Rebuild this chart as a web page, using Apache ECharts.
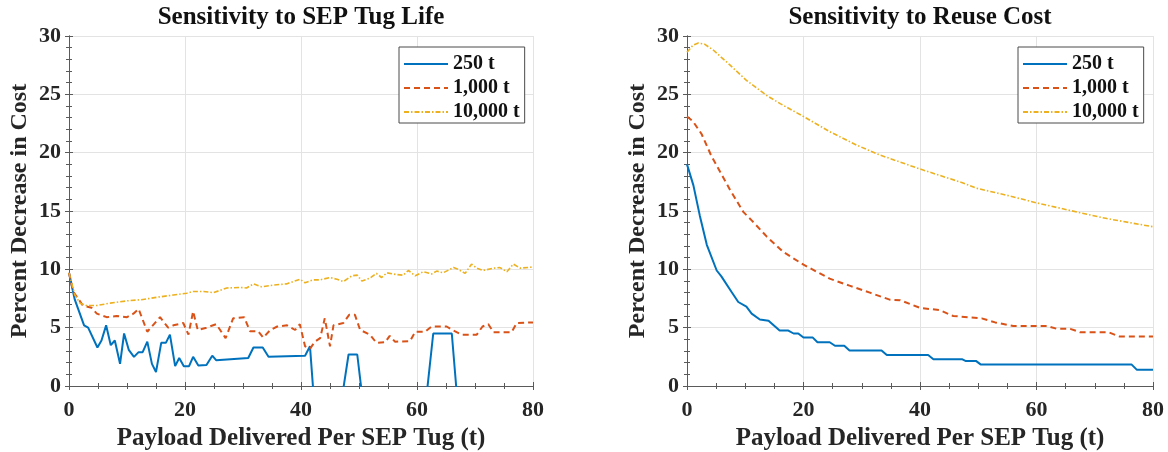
<!DOCTYPE html>
<html>
<head>
<meta charset="utf-8">
<script src="https://cdn.jsdelivr.net/npm/echarts@6/dist/echarts.min.js"></script>
<style>
  html, body { margin: 0; padding: 0; background: #fff; }
  #chart { width: 1168px; height: 452px; }
</style>
</head>
<body>
<div id="chart"></div>
<script>
// [payload (t), percent decrease]
// left panel: sensitivity to SEP tug life
var life250 = [[0,9.7],[1,7.4],[2.6,5.2],[3.3,5.0],[4.9,3.3],[5.6,3.9],[6.4,5.2],[7.2,3.5],[7.9,3.9],[8.8,1.9],
  [9.5,4.5],[10.3,3.1],[11.2,2.5],[12,2.9],[12.7,2.9],[13.5,3.8],[14.3,1.9],[15,1.2],[15.9,3.7],[16.7,3.7],
  [17.4,4.4],[18.3,1.7],[19,2.4],[19.8,1.7],[20.7,1.7],[21.4,2.5],[22.3,1.75],[23.7,1.8],[24.7,2.6],[25.4,2.2],
  [30.9,2.4],[31.8,3.3],[33.4,3.3],[34.4,2.5],[40.7,2.6],[41.55,3.4],[42.5,-3],[45,-4],[47,-1.2],[48.2,2.7],
  [49.7,2.7],[50.7,-1.5],[55,-4],[61.5,-1.5],[62.8,4.5],[66,4.5],[67,-1.5],[80,-3]];
var life1000 = [[0,9.7],[0.7,8.1],[2.4,6.9],[3.9,6.7],[4.8,6.2],[6.5,5.9],[8.2,6.0],[10,5.9],[11.1,6.2],[12,6.6],
  [13.5,4.65],[14.3,5.1],[15.7,5.9],[17.1,5.0],[18,5.2],[19.7,5.4],[20.6,4.4],[21.4,6.4],[22.2,4.8],[23.7,5.0],
  [25.4,5.3],[27,4.1],[28.3,5.8],[30.2,5.9],[31.2,4.7],[32.6,4.7],[33.5,4.15],[34.7,4.8],[35.9,5.1],[37.6,5.2],
  [39,4.8],[39.8,5.3],[40.7,3.4],[41.55,3.2],[42.4,3.8],[43.3,4.1],[44.1,5.8],[45,3.4],[45.6,5.2],[47.3,5.4],
  [48.3,6.1],[49.3,6.1],[50.2,4.8],[51.9,4.4],[53,3.7],[54.5,3.75],[55.3,4.3],[56.2,3.8],[58.8,3.85],[59.7,4.65],
  [61.4,4.65],[62.5,5.1],[65.1,5.1],[66.1,4.8],[67.7,4.4],[70.3,4.4],[71.3,5.1],[72.3,5.3],[73.2,4.6],[76.3,4.6],
  [77.2,5.4],[80,5.45]];
var life10000 = [[0,9.7],[1,7.8],[1.9,7.1],[3,6.9],[4.8,6.9],[7.1,7.1],[10,7.3],[12.5,7.4],[15.1,7.6],[18,7.8],
  [20.3,7.95],[21.4,8.1],[23.2,8.1],[24.9,8.0],[27.2,8.4],[29.5,8.45],[30.6,8.4],[31.8,8.75],[33.2,8.5],[35.2,8.65],
  [37.5,8.75],[39.8,9.15],[40.7,8.85],[42.1,9.1],[43.3,9.1],[45,9.3],[46.2,9.15],[47.3,8.95],[48.8,9.45],[49.7,9.5],
  [50.5,9.0],[51.9,9.25],[53,9.65],[53.9,9.3],[54.8,9.7],[56.5,9.55],[57.6,9.5],[58.5,9.9],[59.7,9.45],[61.1,9.8],
  [62.5,9.6],[63.4,9.85],[64.5,9.7],[66.3,10.15],[67.1,10.0],[68.3,9.65],[69.4,10.45],[70.3,10.1],[71.4,9.9],[73.2,10.1],
  [74.3,10.15],[75.5,9.8],[76.6,10.45],[77.8,10.1],[80,10.2]];

// right panel: sensitivity to reuse cost
var reuse250 = [[0,19.0],[1.1,17.2],[2.2,14.6],[3.4,12.1],[5.1,9.9],[5.9,9.4],[7.6,8.1],[8.8,7.2],[10.2,6.8],[11.1,6.2],
  [12.5,5.7],[14,5.6],[15.9,4.75],[17.4,4.75],[18.3,4.5],[19.1,4.5],[20,4.15],[21.6,4.15],[22.4,3.75],[24.5,3.75],
  [25.4,3.45],[27,3.45],[27.9,3.05],[33.4,3.05],[34.3,2.65],[41.4,2.65],[42.3,2.3],[47.2,2.3],[47.8,2.15],[49.6,2.15],
  [50.4,1.85],[76.3,1.85],[77.2,1.4],[80,1.4]];
var reuse1000 = [[0,23.1],[1,22.7],[2.5,21.6],[4.2,19.7],[7.4,16.8],[9.7,14.9],[11.1,14.2],[13.7,12.8],[16.5,11.5],[20,10.4],
  [24.5,9.2],[27.9,8.6],[31.4,8.0],[34.8,7.4],[36.6,7.35],[40,6.7],[43.4,6.5],[45.7,6.0],[50.6,5.8],[52.9,5.45],
  [56,5.15],[61.8,5.15],[63.5,4.9],[65.8,4.9],[67.5,4.6],[72.4,4.6],[74.2,4.25],[80,4.25]];
var reuse10000 = [[0,28.6],[1,29.2],[1.95,29.4],[3,29.3],[4.5,28.8],[7.4,27.5],[10.2,26.2],[13.7,24.9],[16,24.2],[20,23.1],
  [24.5,21.8],[29.1,20.65],[33.1,19.8],[40,18.6],[47.4,17.4],[49.7,16.95],[54.9,16.35],[60,15.7],[67.5,14.85],[72.1,14.35],
  [76.6,13.95],[80,13.65]];

var seriesNames = ['250 t', '1,000 t', '10,000 t'];
var panelTitles = ['Sensitivity to SEP Tug Life', 'Sensitivity to Reuse Cost'];
var xTitle = 'Payload Delivered Per SEP Tug (t)';
var yTitle = 'Percent Decrease in Cost';

var FONT = "'Liberation Serif', 'Times New Roman', serif";
var AXIS_COLOR = '#5a5a5a';
var TEXT_COLOR = '#262626';
var GRID_COLOR = '#e3e3e3';

var chart = echarts.init(document.getElementById('chart'));

// one set of axes per panel: bottom/left with labels, top/right as the box
function xAxes(gi) {
  var base = {
    type: 'value', gridIndex: gi, min: 0, max: 80, interval: 20,
    axisLine: { show: true, lineStyle: { color: AXIS_COLOR, width: 1 } },
    axisTick: { show: true, inside: true, length: 4, lineStyle: { color: AXIS_COLOR } },
    minorTick: { show: true, splitNumber: 4, length: 3, lineStyle: { color: AXIS_COLOR } }
  };
  var bottom = Object.assign({}, base, {
    position: 'bottom',
    splitLine: { show: true, lineStyle: { color: GRID_COLOR, width: 1 } },
    axisLabel: { color: TEXT_COLOR, fontFamily: FONT, fontWeight: 'bold', fontSize: 22, margin: 13 },
    name: xTitle, nameLocation: 'middle', nameGap: 39,
    nameTextStyle: { color: TEXT_COLOR, fontFamily: FONT, fontWeight: 'bold', fontSize: 25 }
  });
  var top = Object.assign({}, base, {
    position: 'top', splitLine: { show: false }, axisLabel: { show: false }
  });
  return [bottom, top];
}

function yAxes(gi) {
  var base = {
    type: 'value', gridIndex: gi, min: 0, max: 30, interval: 5,
    axisLine: { show: true, lineStyle: { color: AXIS_COLOR, width: 1 } },
    axisTick: { show: true, inside: true, length: 4, lineStyle: { color: AXIS_COLOR } },
    minorTick: { show: true, splitNumber: 5, length: 3, lineStyle: { color: AXIS_COLOR } }
  };
  var left = Object.assign({}, base, {
    position: 'left',
    splitLine: { show: true, lineStyle: { color: GRID_COLOR, width: 1 } },
    axisLabel: { color: TEXT_COLOR, fontFamily: FONT, fontWeight: 'bold', fontSize: 22, margin: 8 },
    name: yTitle, nameLocation: 'middle', nameGap: 37,
    nameTextStyle: { color: TEXT_COLOR, fontFamily: FONT, fontWeight: 'bold', fontSize: 24 }
  });
  var right = Object.assign({}, base, {
    position: 'right', splitLine: { show: false }, axisLabel: { show: false }
  });
  return [left, right];
}

function lineSeries(name, data, gi, kind) {
  var styles = {
    solid:   { color: '#0072BD', width: 2, type: 'solid' },
    dashed:  { color: '#D95319', width: 2, type: [6, 4] },
    dashdot: { color: '#EDB120', width: 1.6, type: [5, 2, 1.5, 2] }
  };
  var ls = styles[kind];
  return {
    name: name, type: 'line', data: data,
    xAxisIndex: gi * 2, yAxisIndex: gi * 2,
    symbol: 'none', clip: true, animation: false,
    itemStyle: { color: ls.color },
    lineStyle: ls
  };
}

function legendFor(left) {
  return {
    orient: 'vertical', left: left, top: 47,
    data: seriesNames,
    backgroundColor: '#fff', borderColor: '#4a4a4a', borderWidth: 1,
    padding: [7, 5, 1, 4], itemGap: 4, itemWidth: 44, itemHeight: 14,
    // hide the marker drawn on the legend line, keep only the line sample
    itemStyle: { color: 'rgba(0,0,0,0)', borderColor: 'rgba(0,0,0,0)', borderWidth: 0 },
    textStyle: { color: '#111', fontFamily: FONT, fontWeight: 'bold', fontSize: 20, lineHeight: 20 },
    selectedMode: false
  };
}

var titleStyle = { color: '#111', fontFamily: FONT, fontWeight: 'bold', fontSize: 25 };

chart.setOption({
  backgroundColor: '#fff',
  animation: false,
  title: [
    { text: panelTitles[0], left: 301, top: 5, textAlign: 'center', padding: 0, textStyle: titleStyle },
    { text: panelTitles[1], left: 920, top: 5, textAlign: 'center', padding: 0, textStyle: titleStyle }
  ],
  legend: [legendFor(399), legendFor(1018)],
  grid: [
    { left: 69, right: 635, top: 36, bottom: 66, outerBoundsMode: 'none' },
    { left: 687, right: 15, top: 36, bottom: 66, outerBoundsMode: 'none' }
  ],
  xAxis: xAxes(0).concat(xAxes(1)),
  yAxis: yAxes(0).concat(yAxes(1)),
  series: [
    lineSeries(seriesNames[0], life250, 0, 'solid'),
    lineSeries(seriesNames[1], life1000, 0, 'dashed'),
    lineSeries(seriesNames[2], life10000, 0, 'dashdot'),
    lineSeries(seriesNames[0], reuse250, 1, 'solid'),
    lineSeries(seriesNames[1], reuse1000, 1, 'dashed'),
    lineSeries(seriesNames[2], reuse10000, 1, 'dashdot')
  ]
});
</script>
</body>
</html>
